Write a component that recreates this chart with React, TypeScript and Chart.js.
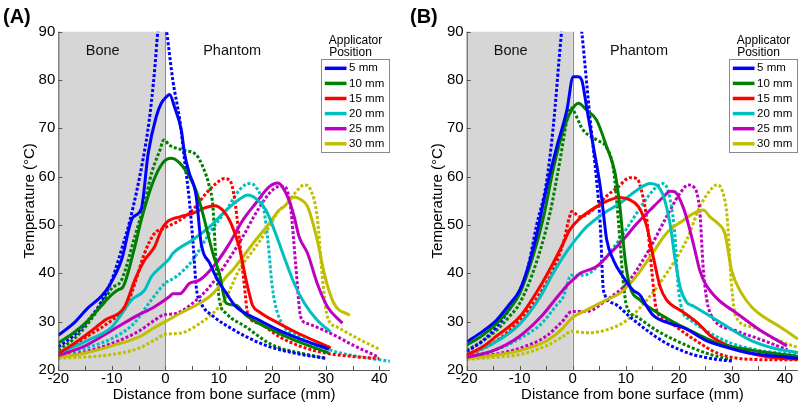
import React, { useEffect, useRef } from "react";
import { Chart, registerables } from "chart.js";
Chart.register(...registerables);

type Pt = [number, number];

const LEGEND_TITLE = ["Applicator", "Position"];
const LEGEND_LABELS = ["5 mm", "10 mm", "15 mm", "20 mm", "25 mm", "30 mm"];
const SERIES_COLORS = ["#0000ff", "#008000", "#ff0000", "#00bfbf", "#bf00bf", "#bfbf00"];
const X_TICKS = [-20, -10, 0, 10, 20, 30, 40];
const X_MINOR = [-20, -15, -10, -5, 0, 5, 10, 15, 20, 25, 30, 35, 40];
const Y_TICKS = [20, 30, 40, 50, 60, 70, 80, 90];
const X_TITLE = "Distance from bone surface (mm)";
const Y_TITLE = "Temperature (°C)";

// ---------- Panel A ----------
const aSolid5: Pt[] = [[-20,27.2],[-17,29.8],[-14.5,32.8],[-12,35.2],[-10.5,37.4],[-8.2,42.7],[-6.1,51.5],[-4.5,53.3],[-3.2,64.8],[-1.7,72.4],[-0.75,75.2],[0.2,76.5],[0.8,77],[1.7,74.5],[3,69.6],[3.6,64.8],[4.5,60.7],[5.3,58.3],[5.8,55.8],[6.7,46.2],[8.3,42.1],[9.8,38.6],[11.4,35.9],[13.2,33.1],[17.6,30.3],[21.3,28.2],[25,26.5],[30.6,24.3]];
const aDot5: Pt[] = [[-20,24.8],[-17,27.2],[-14.4,30.3],[-12,34],[-10,38.6],[-8.3,44.5],[-6.6,51],[-4.2,63.4],[-3,71.7],[-2,82],[-1.4,90],[-0.6,96],[0.25,90],[1.4,80],[2.7,71.7],[3.6,63.4],[4.5,55],[5.2,46],[5.8,37],[6.6,34],[9.1,31],[12.8,28.3],[15.1,26.9],[19,25],[25,23.3],[30,22.4]];
const aSolid10: Pt[] = [[-20,25.6],[-17,27.8],[-14.4,30.3],[-11.3,34.1],[-9.8,35.8],[-8.8,36.6],[-7.9,37.2],[-5.7,45.5],[-4.5,51],[-2.4,58.6],[-0.5,62.8],[1.1,63.8],[2.7,62.8],[4.5,60],[5.8,57],[7,52.4],[8.9,44.1],[10.1,40],[11.4,33.8],[13.2,33.4],[15.1,31.3],[17.6,29.6],[21.3,27.6],[25,25.8],[30.6,23.5]];
const aDot10: Pt[] = [[-20,24.1],[-17,26.5],[-14.4,29.7],[-12,33.5],[-10,36.9],[-8.2,38.6],[-5.7,47.6],[-3.9,54.5],[-2.5,61],[-1,65.5],[-0.3,67.6],[0.8,66.5],[3.3,65.5],[5.8,64.5],[7,62.1],[8.25,57.9],[8.9,53.8],[9.5,42],[10.1,34.5],[11.4,31.7],[15.1,28.9],[19,25.8],[21.3,24.6],[25.3,23.5],[29.7,22.5]];
const aSolid15: Pt[] = [[-20,23.4],[-17,25.5],[-14.4,27.6],[-11.3,30.3],[-7.6,33.1],[-5.7,38.6],[-3.9,42.7],[-2,45.5],[-0.75,48.9],[0.2,50.5],[2.7,51.7],[5.1,52.4],[7,53.4],[9.2,54],[10.7,53.1],[12.3,50.3],[13.8,45.5],[15.1,38.6],[15.7,35.8],[16.3,33.4],[17.6,32],[21.3,29.6],[25,27.5],[30.9,24.6]];
const aDot15: Pt[] = [[-20,23.2],[-14.4,27.1],[-10,30.3],[-7.3,33.1],[-5.7,37.9],[-3.9,44.1],[-2,48.3],[-0.3,49.3],[2.7,51],[5.1,53.1],[7.6,56.5],[9.5,58.6],[11,59.6],[12,59.3],[12.9,55.8],[13.8,47.6],[14.8,37.2],[15.4,31.7],[17.6,29.6],[21.3,26.9],[25,25],[30,23.5],[35,22.8],[40,22.4]];
const aSolid20: Pt[] = [[-20,23.5],[-14.4,26.2],[-10,28.9],[-6.3,34.5],[-3.9,36.5],[-2.6,39.3],[-0.75,41.4],[0.8,43.1],[1.4,44.1],[5.1,46.9],[8.25,49.6],[11.4,53.1],[14.5,55.8],[15.4,56.2],[16.9,55.5],[18.8,53.1],[20.4,48.9],[22.2,43.4],[24.1,37.9],[26,33.8],[28.4,30.3],[30.9,27.9]];
const aDot20: Pt[] = [[-20,23],[-15,24.5],[-10,26.5],[-6,29.5],[-2.6,34.5],[-0.1,37.9],[2,39.3],[5.1,42.7],[8.25,48.3],[11.4,53.1],[13.8,57.2],[15.7,58.6],[16.9,57.9],[18.2,54.5],[19.1,47.6],[20,37.2],[21,31.7],[25,27],[30.9,24.1],[35,23],[42,21.8]];
const aSolid25: Pt[] = [[-20,23],[-15,25],[-10,28.2],[-5.7,31],[-2,33.1],[0.8,35.2],[1.4,35.8],[2.7,35.8],[4.5,37.9],[6.4,38.6],[9.5,42.1],[12,46.2],[14.5,51],[16.9,54.5],[19.4,57.9],[21,58.7],[21.6,58.3],[23.1,55.2],[24.1,51.7],[25,47.6],[26.6,44.1],[28.4,37.9],[30.3,33.1],[33.1,29.7]];
const aDot25: Pt[] = [[-20,22.9],[-15,23.8],[-10,25.5],[-5,28],[-2,30.3],[-0.3,31.4],[2,31.7],[5.1,33.8],[8.25,37.2],[11.4,42.1],[14.5,47.6],[16.9,52.4],[19.4,56.5],[21,57.9],[22.2,58],[23.4,53.8],[24.4,41.4],[25.3,31],[26.6,29.6],[30.9,27.6],[35,25.2],[39.6,22.8]];
const aSolid30: Pt[] = [[-20,22.6],[-15,23.5],[-10,25],[-5,26.8],[-2,28.8],[0,30],[2.7,31.7],[6.4,33.8],[8.9,35.8],[11.4,39.3],[12.6,40.7],[14.5,43.4],[16.9,46.9],[19.4,50.3],[21.3,53.1],[22.2,53.8],[24.1,55.8],[25.4,55.2],[26.6,53.8],[28.4,46.9],[29.7,40],[31.5,33.8],[34.5,31.3]];
const aDot30: Pt[] = [[-20,22.4],[-10,23.2],[-5,24.5],[-2,26.2],[0,27.4],[2.7,27.6],[6.4,29.6],[9.5,32.4],[11.4,35.1],[13.8,40.7],[16.9,45.5],[19.4,49.6],[21.3,53.1],[22.2,53.8],[24.7,57.2],[26,58.3],[27.2,57.2],[28.4,51.7],[29.3,40],[30.3,31],[32.1,28.9],[36,26.5],[40,24.3]];

// ---------- Panel B ----------
const bSolid5: Pt[] = [[-20,25.8],[-17,28],[-14.4,30.3],[-12,33.5],[-10,36.5],[-8.5,41],[-6.8,48],[-4.9,57.9],[-3,66.2],[-1.1,73.8],[0.1,80.7],[1,80.7],[1.7,80],[2.6,74.5],[3.9,66.2],[5.2,57.9],[5.8,52.4],[6.4,47],[7.7,42.7],[9.5,39.3],[11.4,36.5],[12.7,35.5],[14,33.1],[15.2,31.3],[18.4,29.6],[21.2,28.6],[25,26.2],[28.7,24.8],[33.8,23.4],[40.1,22.7],[42.5,22.4]];
const bDot5: Pt[] = [[-20,23.8],[-17,26],[-14.4,28.9],[-12,32.5],[-10,36.5],[-8.5,41],[-6.8,50],[-5,58.5],[-3.7,70],[-2.1,90],[-0.2,108],[1.7,90],[3.3,71.7],[4.5,59.3],[5.2,50],[5.8,36.5],[7.7,33.8],[10.8,31],[14,28.2],[17.7,25.5],[22.1,23.4],[26,22.4],[30.3,21.8]];
const bSolid10: Pt[] = [[-20,25.1],[-17,27.2],[-14.4,29.6],[-12,32.5],[-10,35.8],[-7.5,43.5],[-5.5,51.7],[-3.7,61.4],[-1.8,69.6],[-0.2,73.8],[1.1,75.2],[2.6,73.8],[4.5,71.7],[6.4,66.2],[8,60.7],[8.9,53.8],[9.9,42.7],[10.8,37.2],[12.7,34.5],[15.2,32.4],[18.4,30.3],[22.1,28.2],[27.5,25.5],[33.8,24.1],[42.5,22.8]];
const bDot10: Pt[] = [[-20,24.1],[-17,26],[-14.4,28.2],[-12,31],[-10,33.8],[-6.9,42.1],[-4.3,52.4],[-2.4,63.4],[-1.1,71.7],[-0.5,74.3],[2,69.6],[4.5,67.6],[6.4,66],[7.7,61.4],[8.6,51],[9.5,38.6],[10.2,33.1],[12.1,31],[15.8,28.2],[22.1,24.8],[26,23.2],[30,22.1]];
const bSolid15: Pt[] = [[-20,23.1],[-17,24.8],[-14.4,27],[-10,31],[-6.2,37.2],[-3.7,42.1],[-1.8,46.2],[-0.6,48.9],[1.2,51.2],[4.5,53.8],[7,55.2],[8.9,55.7],[10.8,55.2],[12.4,53.8],[14,49.6],[15.2,43.4],[16.5,37.2],[17.7,34.5],[20.2,32.4],[21.2,31.7],[23.7,29.6],[26.2,26.9],[30.6,24.5],[36.9,22.7],[42.5,22.2]];
const bDot15: Pt[] = [[-20,22.9],[-14.4,26],[-10,30.3],[-6.2,35.8],[-3.7,40.7],[-1.8,46.2],[-0.6,51.7],[-0.2,52.8],[1.4,51.7],[4.2,53.5],[6.4,56],[8.5,57.8],[10.8,59.8],[12.1,59.6],[13,57],[14,51],[14.9,40.7],[15.8,32.5],[17.7,30.3],[22.1,26.9],[27.5,23.4],[33.8,22.2],[40,22.1],[42.5,22.1]];
const bSolid20: Pt[] = [[-20,23.1],[-15,25.5],[-10,29.5],[-6.2,35],[-3.7,40],[-1.8,43.4],[-0.5,45.5],[1,47.6],[2.6,49.6],[5.8,52.4],[8.9,54.5],[12.1,57.2],[14.6,58.6],[15.8,58.3],[17.1,56],[18.4,50],[19.3,43],[20.3,37],[21.5,34],[22.8,33.2],[27.2,30.3],[33.5,26.2],[38,24.5],[42.5,23.6]];
const bDot20: Pt[] = [[-20,22.8],[-15,24],[-10,26.5],[-6,29.5],[-3,33.5],[-1.8,35.1],[-0.3,39.6],[2,39.6],[5.8,42.7],[8.3,46.2],[10.8,50.3],[13.3,54.5],[15.8,57.9],[17.1,58.6],[18.4,55.2],[19.3,47.6],[19.9,37.2],[20.9,31.7],[22,30.5],[26,27.6],[30,25.5],[35,24.1],[42.5,23.2]];
const bSolid25: Pt[] = [[-20,22.6],[-15,24],[-10,27],[-6,31],[-3,35],[-1,37.6],[0.7,39.3],[1.4,40],[4.5,41.4],[7,44.1],[9.5,46.9],[12.1,50.3],[14.6,53.1],[17.1,55.8],[18.4,57],[19.2,56.9],[20.9,53.5],[22.1,49],[23,45],[24,40.5],[25,37.9],[27.5,34.5],[30.6,32],[35,28.5],[40.4,25]];
const bDot25: Pt[] = [[-20,22.6],[-15,23.2],[-10,24.5],[-5,27],[-2,30],[-0.2,32.1],[2.6,32.1],[6.4,34.5],[10.2,37.9],[14,44.1],[17.7,51.7],[20.2,56.5],[21.8,58.3],[22.8,57.9],[24,52.5],[24.6,41.4],[25.3,34.5],[26.3,31],[30.6,28.2],[35,26.5],[40.5,24.2]];
const bSolid30: Pt[] = [[-20,22.4],[-15,23],[-10,24],[-5,26],[-2,28.5],[-0.2,30.7],[2.6,32.4],[6.4,34.5],[8.9,35.9],[11.4,38.6],[14.6,43.4],[17.7,48.3],[20.9,51],[22.8,52.4],[24.6,53.1],[25.9,51.7],[27.5,50.2],[28.7,48.3],[30,40.5],[31.9,35.8],[33.8,33],[36.3,30.8],[39.3,28.8],[42.5,26.4]];
const bDot30: Pt[] = [[-20,22.2],[-15,22.6],[-10,23.2],[-5,25],[-2,26.8],[-0.2,28],[2.6,27.7],[6.4,28.3],[10.2,30.3],[14,34.5],[17.7,40],[21.5,46.9],[24,53.8],[26.5,57.9],[27.2,58.3],[28.1,57.4],[29.1,52],[30,37],[30.8,31],[33.8,28.9],[38,26.5],[42.5,24.6]];

const A_SOLID = [aSolid5, aSolid10, aSolid15, aSolid20, aSolid25, aSolid30];
const A_DOTTED = [aDot5, aDot10, aDot15, aDot20, aDot25, aDot30];
const B_SOLID = [bSolid5, bSolid10, bSolid15, bSolid20, bSolid25, bSolid30];
const B_DOTTED = [bDot5, bDot10, bDot15, bDot20, bDot25, bDot30];

const FONT = "'Liberation Sans', Arial, sans-serif";
Chart.defaults.font.family = FONT;

type PanelProps = {
  tag: string;
  solid: Pt[][];
  dotted: Pt[][];
  xMax: number;
  padLeft: number;
  padRight: number;
};

function buildDatasets(solid: Pt[][], dotted: Pt[][]) {
  const ds: any[] = [];
  solid.forEach((pts, i) => {
    ds.push({
      label: LEGEND_LABELS[i],
      data: pts.map(([x, y]) => ({ x, y })),
      borderColor: SERIES_COLORS[i],
      borderWidth: 3,
      pointRadius: 0,
      fill: false,
      cubicInterpolationMode: "monotone",
      clip: 0,
    });
  });
  dotted.forEach((pts, i) => {
    ds.push({
      label: LEGEND_LABELS[i] + " (dotted)",
      data: pts.map(([x, y]) => ({ x, y })),
      borderColor: SERIES_COLORS[i],
      borderWidth: 3,
      borderDash: [3, 2],
      pointRadius: 0,
      fill: false,
      cubicInterpolationMode: "monotone",
      clip: 0,
    });
  });
  return ds;
}

function makePlugin(tag: string) {
  return {
    id: "panelDecor" + tag,
    beforeDatasetsDraw(chart: any) {
      const { ctx, chartArea } = chart;
      const { top, bottom } = chartArea;
      const xs = chart.scales.x;
      const x0 = xs.getPixelForValue(0);
      const xl = xs.getPixelForValue(-20);
      ctx.save();
      ctx.fillStyle = "#d6d6d6";
      ctx.fillRect(xl, top, x0 - xl, bottom - top);
      ctx.strokeStyle = "#8a8a8a";
      ctx.lineWidth = 1;
      ctx.beginPath();
      ctx.moveTo(Math.round(x0) + 0.5, top);
      ctx.lineTo(Math.round(x0) + 0.5, bottom);
      ctx.stroke();
      ctx.restore();
    },
    afterDatasetsDraw(chart: any) {
      const { ctx, chartArea } = chart;
      const { left, right, top, bottom } = chartArea;
      const xs = chart.scales.x;
      const ys = chart.scales.y;
      ctx.save();
      // axes
      ctx.strokeStyle = "#555";
      ctx.lineWidth = 1;
      ctx.beginPath();
      ctx.moveTo(left + 0.5, top);
      ctx.lineTo(left + 0.5, bottom + 0.5);
      ctx.lineTo(right, bottom + 0.5);
      ctx.stroke();
      // inward ticks
      ctx.beginPath();
      X_MINOR.forEach((v) => {
        const px = Math.round(xs.getPixelForValue(v)) + 0.5;
        ctx.moveTo(px, bottom);
        ctx.lineTo(px, bottom - 4);
      });
      Y_TICKS.forEach((v) => {
        const py = Math.round(ys.getPixelForValue(v)) + 0.5;
        ctx.moveTo(left, py);
        ctx.lineTo(left + 4, py);
      });
      ctx.stroke();

      // region labels
      ctx.fillStyle = "#111";
      ctx.font = "14.5px " + FONT;
      ctx.textAlign = "center";
      ctx.textBaseline = "middle";
      ctx.fillText("Bone", xs.getPixelForValue(-11.7), top + 19);
      ctx.fillText("Phantom", xs.getPixelForValue(12.5), top + 19);

      // axis titles
      ctx.font = "15px " + FONT;
      ctx.fillStyle = "#000";
      ctx.fillText(X_TITLE, (left + right) / 2, 395);
      ctx.save();
      ctx.translate(left - 28.4, (top + bottom) / 2);
      ctx.rotate(-Math.PI / 2);
      ctx.fillText(Y_TITLE, 0, 0);
      ctx.restore();

      // panel tag
      ctx.font = "bold 20px " + FONT;
      ctx.textAlign = "left";
      ctx.textBaseline = "alphabetic";
      ctx.fillText(tag, tag === "(A)" ? 3 : 10, 23);

      // legend
      const boxW = 68;
      const boxH = 93;
      const boxR = right - 1.5;
      const boxL = boxR - boxW;
      const boxT = 59.3;
      ctx.font = "12px " + FONT;
      ctx.textAlign = "center";
      ctx.textBaseline = "middle";
      ctx.fillStyle = "#000";
      ctx.fillText(LEGEND_TITLE[0], boxL + boxW / 2 + 1, 40.7);
      ctx.fillText(LEGEND_TITLE[1], boxL + boxW / 2 - 4, 52.7);
      ctx.fillStyle = "#fff";
      ctx.fillRect(boxL, boxT, boxW, boxH);
      ctx.strokeStyle = "#8a8a8a";
      ctx.lineWidth = 1;
      ctx.strokeRect(Math.round(boxL) + 0.5, Math.round(boxT) + 0.5, boxW, boxH);
      ctx.font = "11.5px " + FONT;
      LEGEND_LABELS.forEach((lab, i) => {
        const yy = boxT + 9 + i * 15.1;
        ctx.strokeStyle = SERIES_COLORS[i];
        ctx.lineWidth = 3.5;
        ctx.beginPath();
        ctx.moveTo(boxL + 4.3, yy);
        ctx.lineTo(boxL + 26, yy);
        ctx.stroke();
        ctx.fillStyle = "#000";
        ctx.textAlign = "left";
        ctx.fillText(lab, boxL + 28.6, yy);
      });
      ctx.restore();
    },
  };
}

function Panel({ tag, solid, dotted, xMax, padLeft, padRight }: PanelProps) {
  const ref = useRef<HTMLCanvasElement>(null);
  useEffect(() => {
    const chart = new Chart(ref.current as HTMLCanvasElement, {
      type: "line",
      data: { datasets: buildDatasets(solid, dotted) },
      options: {
        responsive: false,
        animation: false,
        devicePixelRatio: 1,
        layout: { padding: { left: padLeft, right: padRight, top: 31.7, bottom: 0 } },
        plugins: {
          legend: { display: false },
          tooltip: { enabled: false },
          title: { display: false },
        },
        elements: { line: { tension: 0 } },
        scales: {
          x: {
            type: "linear",
            min: -20,
            max: xMax,
            grid: { display: false, drawTicks: false },
            border: { display: false },
            afterBuildTicks: (s: any) => {
              s.ticks = X_TICKS.map((v) => ({ value: v }));
            },
            afterFit: (s: any) => {
              s.height = 36;
            },
            ticks: {
              color: "#000",
              font: { size: 15 },
              padding: 0,
              maxRotation: 0,
              autoSkip: false,
            },
          },
          y: {
            type: "linear",
            min: 20,
            max: 90,
            grid: { display: false, drawTicks: false },
            border: { display: false },
            afterBuildTicks: (s: any) => {
              s.ticks = Y_TICKS.map((v) => ({ value: v }));
            },
            afterFit: (s: any) => {
              s.width = 58.3;
            },
            ticks: {
              color: "#000",
              font: { size: 15 },
              padding: 3,
              autoSkip: false,
            },
          },
        },
      } as any,
      plugins: [makePlugin(tag)],
    });
    return () => chart.destroy();
  }, []);
  return (
    <canvas
      ref={ref}
      width={400}
      height={406}
      style={{ display: "block", width: 400, height: 406 }}
    />
  );
}

export default function App() {
  return (
    <div
      style={{
        position: "absolute",
        left: 0,
        top: 0,
        width: 800,
        height: 406,
        display: "flex",
        background: "#fff",
      }}
    >
      <Panel tag="(A)" solid={A_SOLID} dotted={A_DOTTED} xMax={42} padLeft={0} padRight={10} />
      <Panel tag="(B)" solid={B_SOLID} dotted={B_DOTTED} xMax={42.5} padLeft={8.4} padRight={2} />
    </div>
  );
}
